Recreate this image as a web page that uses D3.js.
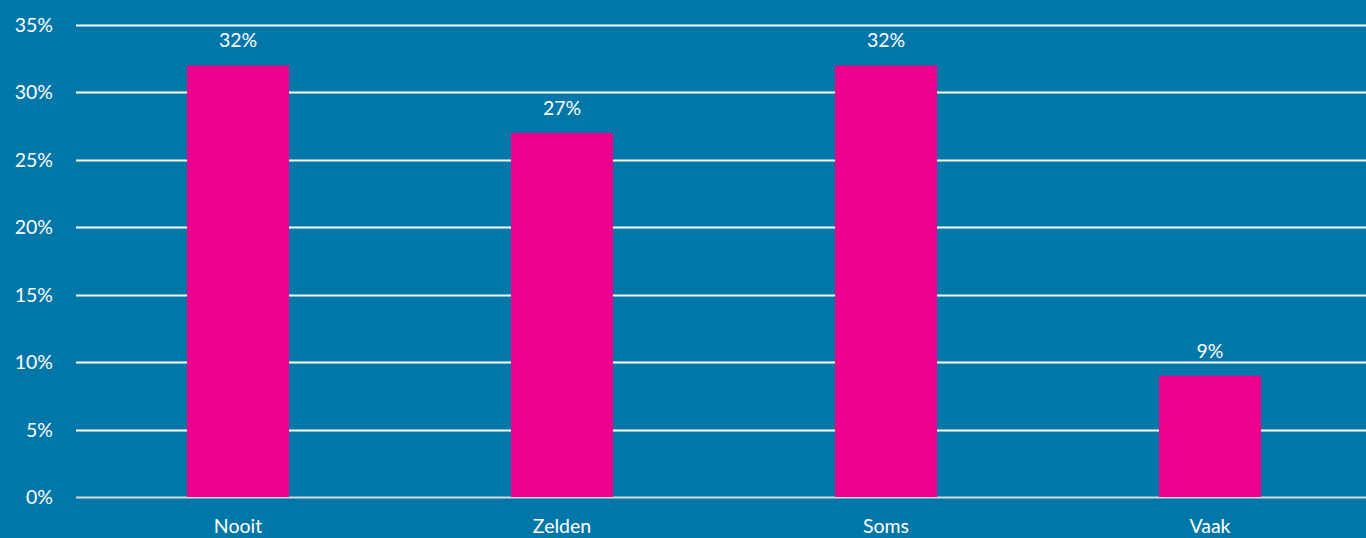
<!DOCTYPE html>
<html>
<head>
<meta charset="utf-8">
<script src="https://cdn.jsdelivr.net/npm/d3@7"></script>
<style>
  body { margin: 0; background: #0077a8; overflow: hidden; }
  svg { display: block; font-family: Lato, "Open Sans", sans-serif; }
</style>
</head>
<body>
<svg id="chart" width="1366" height="538"></svg>
<script>
// data
const categorieen = ["Nooit", "Zelden", "Soms", "Vaak"];
const waarden = [32, 27, 32, 9];
const yTicks = [0, 5, 10, 15, 20, 25, 30, 35];

const svg = d3.select("#chart");
const margin = { left: 76, right: -6, top: 25, bottom: 41 };
const W = 1366, H = 538;

svg.append("rect").attr("width", W).attr("height", H).attr("fill", "#0077a8");

const x = d3.scaleBand()
    .domain(categorieen)
    .range([margin.left, W - margin.right])
    .paddingInner(0.685)
    .paddingOuter(0.3425);

const y = d3.scaleLinear()
    .domain([0, 35])
    .range([H - margin.bottom, margin.top]);

// rasterlijnen
svg.append("g")
    .selectAll("line")
    .data(yTicks)
    .enter().append("line")
    .attr("x1", margin.left)
    .attr("x2", W)
    .attr("y1", d => Math.round(y(d)) + 0.5)
    .attr("y2", d => Math.round(y(d)) + 0.5)
    .attr("stroke", d => d === 0 ? "#d9d9d9" : "#ffffff")
    .attr("stroke-width", 2);

// y labels
svg.append("g")
    .selectAll("text")
    .data(yTicks)
    .enter().append("text")
    .attr("x", 53)
    .attr("y", d => y(d))
    .attr("dy", "0.36em")
    .attr("text-anchor", "end")
    .attr("fill", "#ffffff")
    .attr("font-size", 19.5)
    .text(d => d + "%");

const data = categorieen.map((c, i) => ({ cat: c, val: waarden[i] }));

// staven
svg.append("g")
    .selectAll("rect")
    .data(data)
    .enter().append("rect")
    .attr("x", d => x(d.cat))
    .attr("width", x.bandwidth())
    .attr("y", d => y(d.val))
    .attr("height", d => y(0) - y(d.val))
    .attr("fill", "#ec008c");

// waardelabels
svg.append("g")
    .selectAll("text")
    .data(data)
    .enter().append("text")
    .attr("x", d => x(d.cat) + x.bandwidth() / 2)
    .attr("y", d => y(d.val) - 18)
    .attr("text-anchor", "middle")
    .attr("fill", "#ffffff")
    .attr("font-size", 19.5)
    .text(d => d.val + "%");

// categorielabels
svg.append("g")
    .selectAll("text")
    .data(categorieen)
    .enter().append("text")
    .attr("x", d => x(d) + x.bandwidth() / 2)
    .attr("y", 533)
    .attr("text-anchor", "middle")
    .attr("fill", "#ffffff")
    .attr("font-size", 19.5)
    .text(d => d);
</script>
</body>
</html>
